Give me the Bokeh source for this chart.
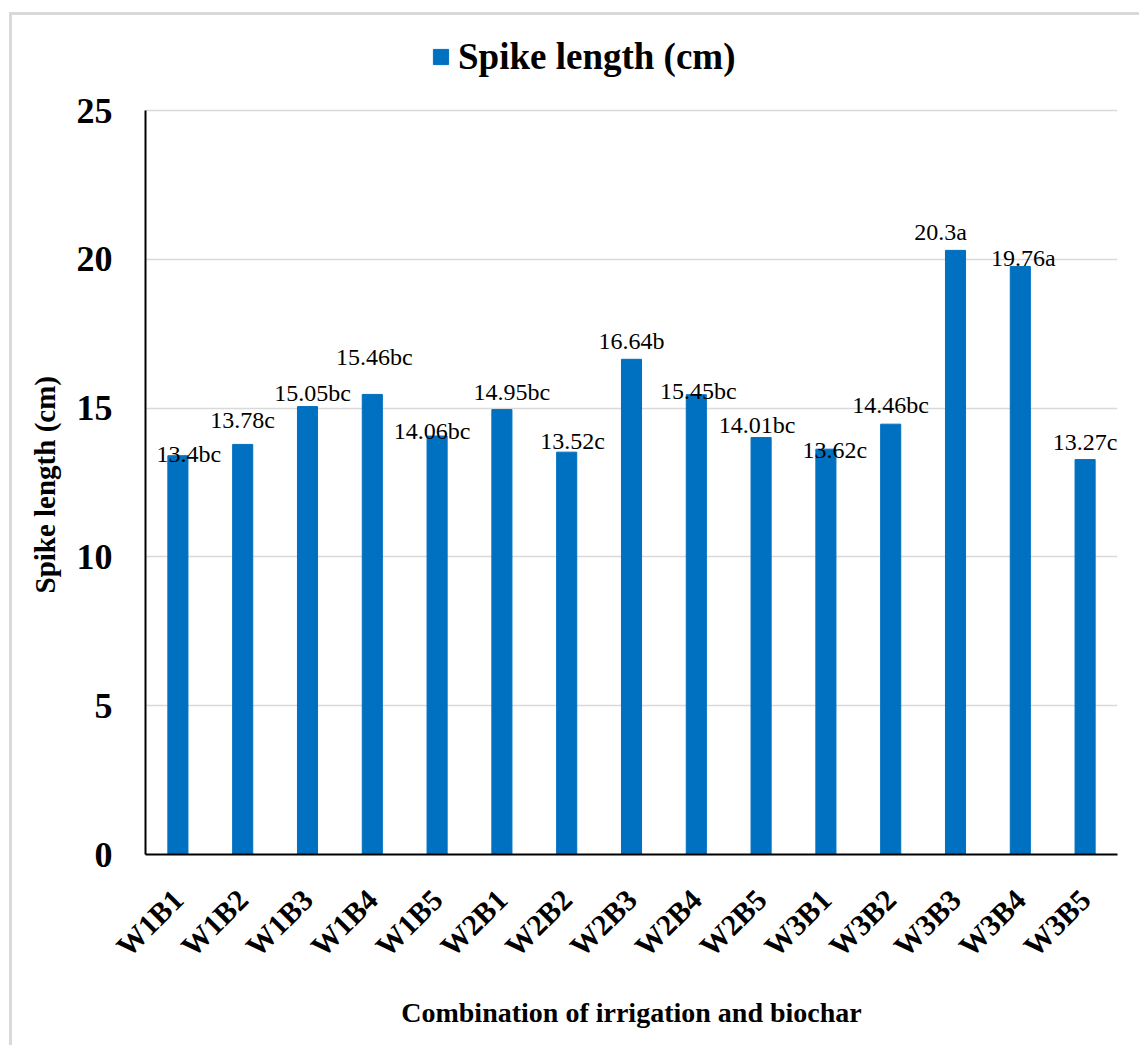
import math
from bokeh.plotting import figure
from bokeh.models import (ColumnDataSource, Legend, LegendItem, FactorRange, Range1d,
                          FixedTicker, Label, Title)
from bokeh.embed import file_html
from bokeh.resources import INLINE

categories = ["W1B1", "W1B2", "W1B3", "W1B4", "W1B5",
              "W2B1", "W2B2", "W2B3", "W2B4", "W2B5",
              "W3B1", "W3B2", "W3B3", "W3B4", "W3B5"]
spike_length = [13.4, 13.78, 15.05, 15.46, 14.06,
                14.95, 13.52, 16.64, 15.45, 14.01,
                13.62, 14.46, 20.3, 19.76, 13.27]
letters = ["bc", "c", "bc", "bc", "bc",
           "bc", "c", "b", "bc", "bc",
           "c", "bc", "a", "a", "c"]
y_ticks = [0, 5, 10, 15, 20, 25]
y_max = 25

# manual label nudges (screen px, right / up), as placed in the original
label_dx = [11, 0, 5, 2, -5, 10, 6, 0, 2, -4, 9, 0, -15, 3, 0]
label_dy = [2, 24, 14, 37, 5, 18, 11, 18, 4, 13, -1, 19, 18, 8, 18]

FONT = "Liberation Serif"
BLUE = "#0070C0"

# layout (canvas px): plot area 744 px tall for 0..25, extra headroom holds the legend
FRAME_H_AXIS = 744
HEADROOM = 80
y_top = y_max * (FRAME_H_AXIS + HEADROOM) / FRAME_H_AXIS

src = ColumnDataSource(dict(cat=categories, val=spike_length))

p = figure(x_range=FactorRange(*categories, range_padding=0),
           y_range=Range1d(0, y_top),
           width=1130, height=1033,
           output_backend="svg", toolbar_location=None,
           min_border_left=133, min_border_right=25,
           min_border_top=15, min_border_bottom=194)
p.styles = {"border-top": "3px solid #d9d9d9", "border-left": "3px solid #d9d9d9",
            "margin-left": "9px", "margin-top": "12px"}

bars = p.vbar(x="cat", top="val", width=0.31, source=src,
              fill_color=BLUE, line_color=BLUE)

for i, (v, l) in enumerate(zip(spike_length, letters)):
    p.add_layout(Label(x=i + 0.5, y=v, x_units="data", y_units="data",
                       text=f"{v:g}{l}", x_offset=label_dx[i], y_offset=label_dy[i],
                       text_align="center", text_baseline="alphabetic",
                       text_font=FONT, text_font_size="24px", text_color="black"))

p.outline_line_color = None
p.background_fill_color = "white"
p.border_fill_color = "white"

p.xgrid.grid_line_color = None
p.ygrid.grid_line_color = "#d9d9d9"
p.ygrid.grid_line_width = 1.5
p.yaxis.ticker = FixedTicker(ticks=y_ticks)
p.yaxis.bounds = (0, y_max)

for ax in (p.xaxis[0], p.yaxis[0]):
    ax.axis_line_color = "black"
    ax.axis_line_width = 2
    ax.major_tick_line_color = None
    ax.minor_tick_line_color = None
    ax.major_label_text_font = FONT
    ax.major_label_text_font_style = "bold"
    ax.major_label_text_color = "black"
    ax.axis_label_text_font = FONT
    ax.axis_label_text_font_style = "bold"
    ax.axis_label_text_color = "black"

p.yaxis.major_label_text_font_size = "36px"
p.yaxis.major_label_standoff = 27

# y-axis title, centred on the 0..25 axis span (not on the taller frame)
ytitle = Title(text="Spike length (cm)", align="left", offset=261,
               text_font=FONT, text_font_style="bold", text_font_size="29px",
               text_color="black", standoff=26)
p.add_layout(ytitle, "left")

p.xaxis.major_label_text_font_size = "30px"
p.xaxis.major_label_orientation = math.pi / 4
p.xaxis.major_label_standoff = 34
p.xaxis.axis_label = "Combination of irrigation and biochar"
p.xaxis.axis_label_text_font_size = "28px"
p.xaxis.axis_label_standoff = 20

legend = Legend(items=[LegendItem(label="Spike length (cm)", renderers=[bars])],
                location=(286, 776), orientation="horizontal",
                glyph_width=19, glyph_height=19, label_standoff=8,
                padding=0, margin=0, spacing=0,
                label_text_font=FONT, label_text_font_style="bold",
                label_text_font_size="37px", label_text_color="black",
                border_line_color=None, background_fill_alpha=0)
p.add_layout(legend, "center")

open("out.html", "w").write(file_html(p, INLINE))
